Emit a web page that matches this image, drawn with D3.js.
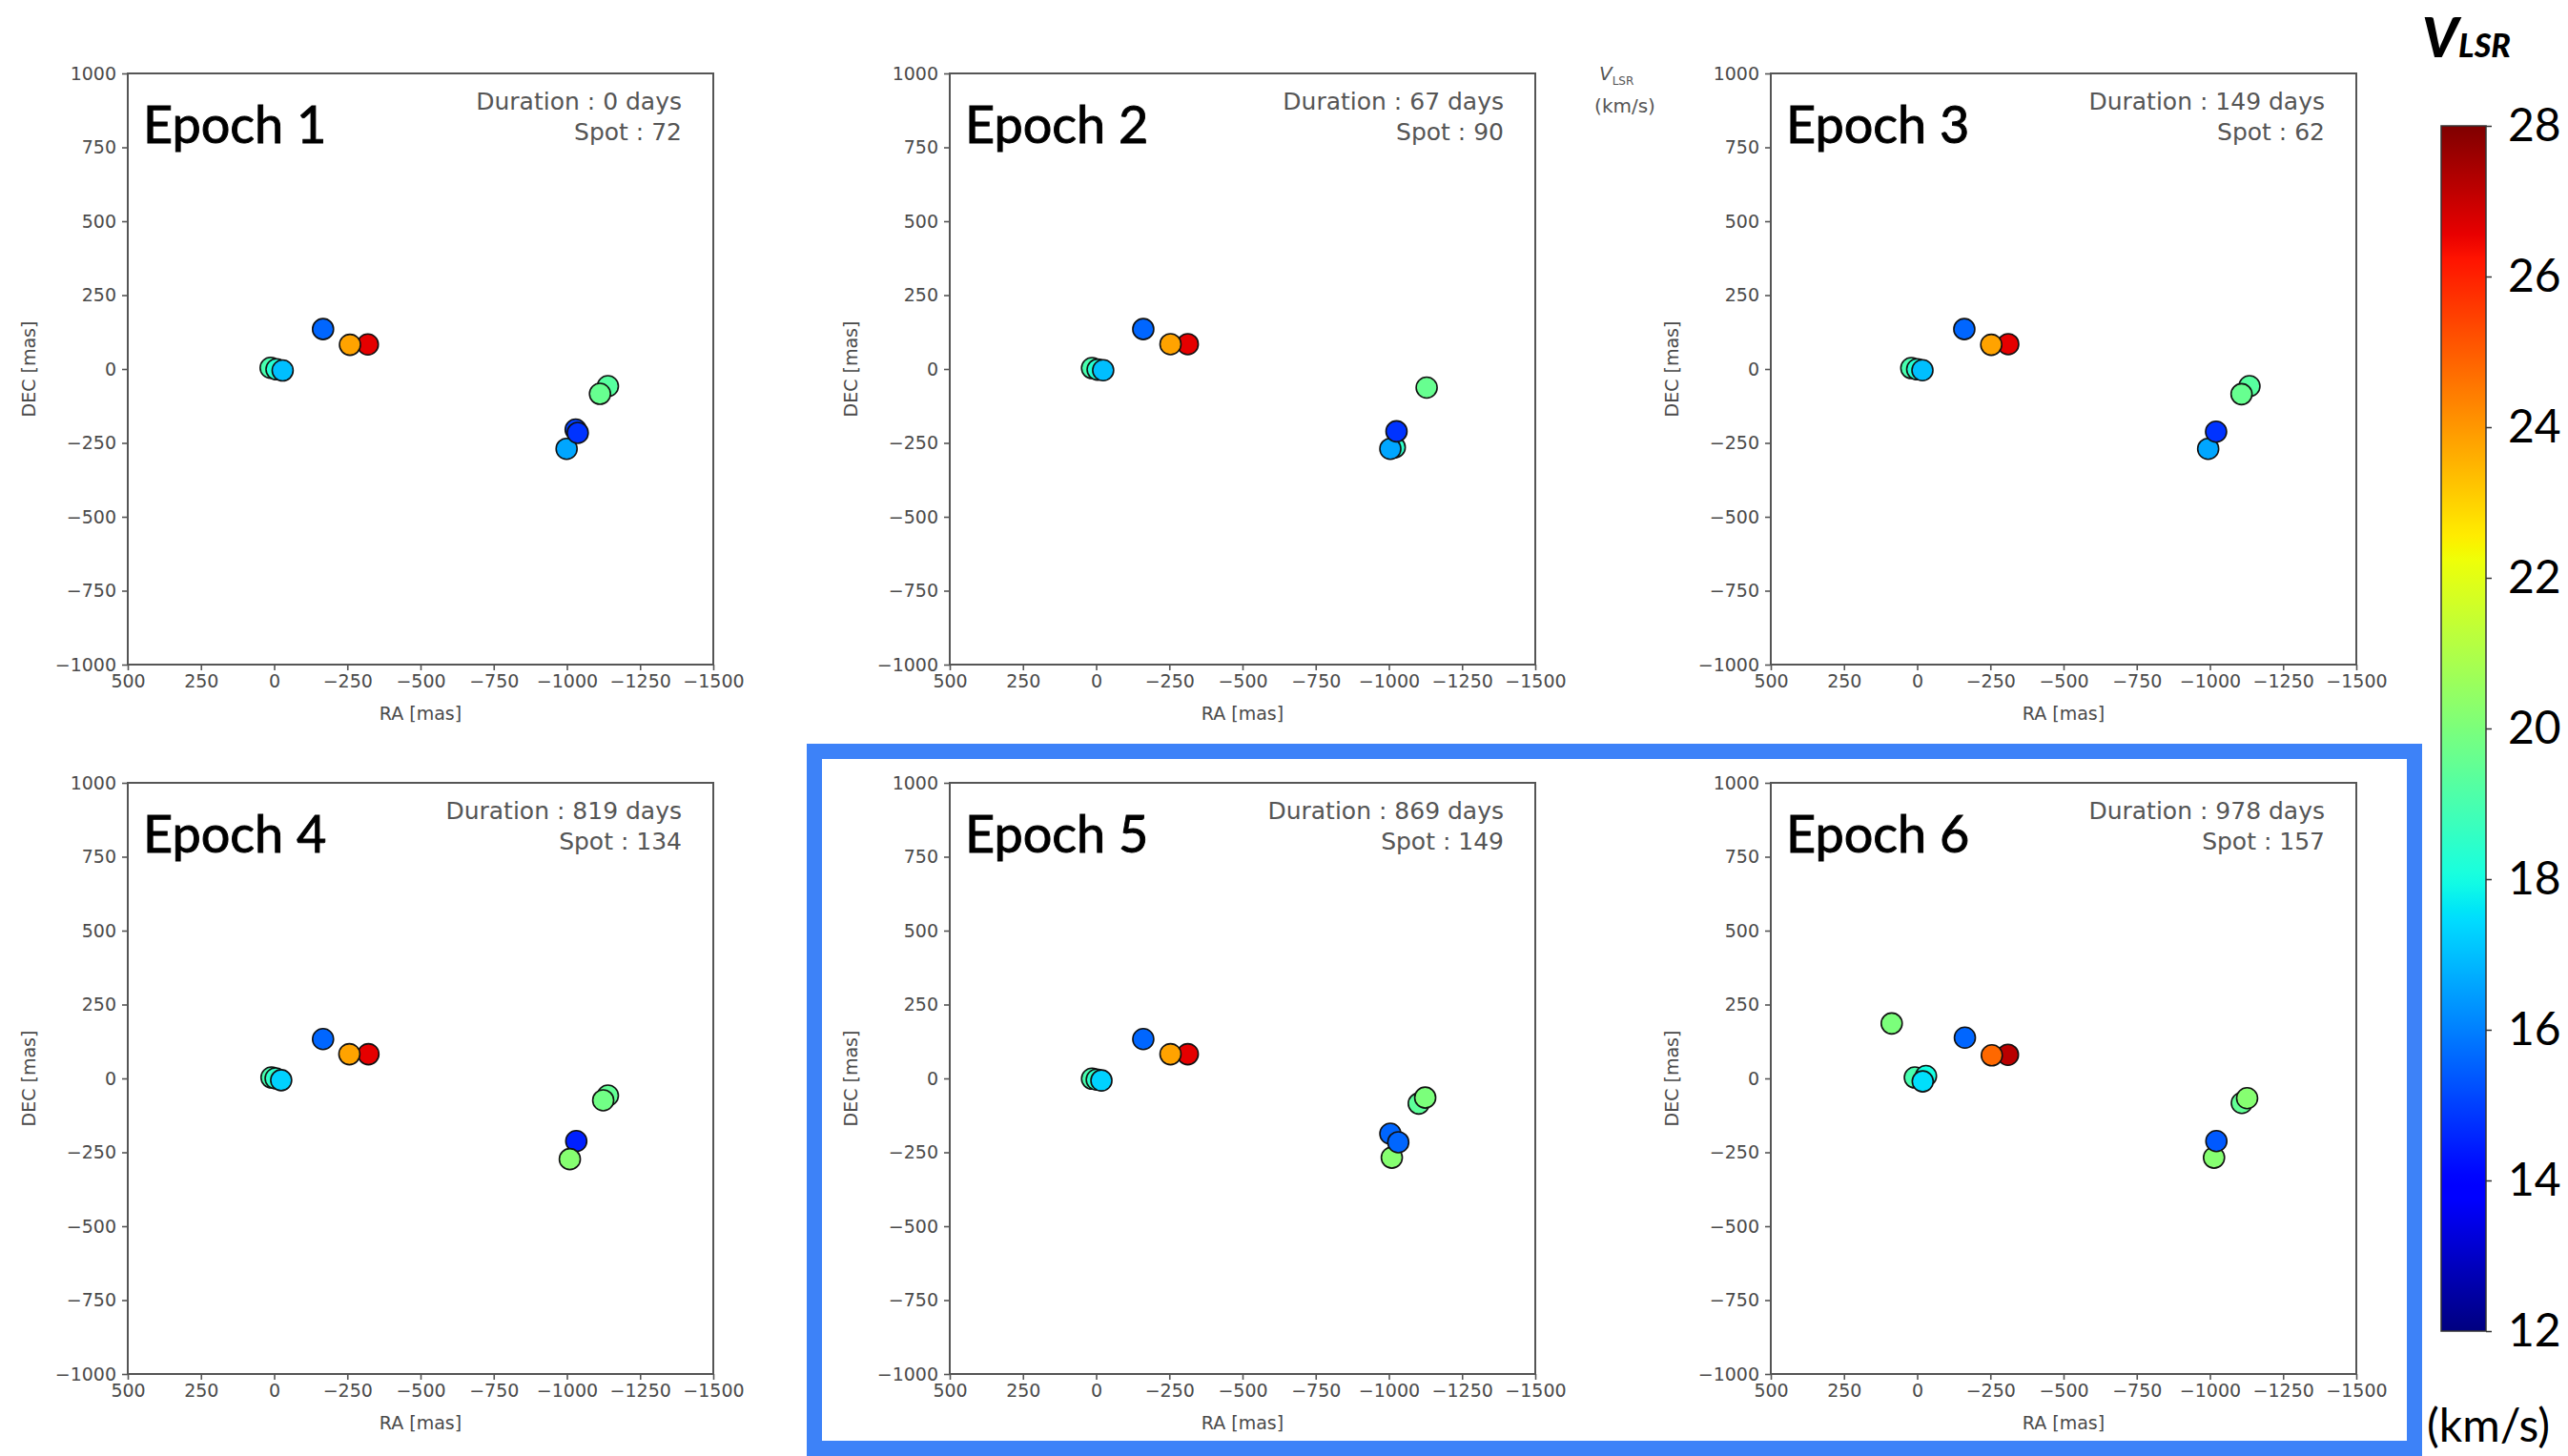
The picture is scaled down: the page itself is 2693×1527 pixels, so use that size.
<!DOCTYPE html>
<html>
<head>
<meta charset="utf-8">
<script src="https://cdnjs.cloudflare.com/ajax/libs/d3/7.8.5/d3.min.js"></script>
<style>
    body { margin: 0; background: #fff; }
    svg { display: block; }
</style>
</head>
<body>
<div id="chart"></div>
<script>
    /*
    DATA
    */
    const epochNames = ["Epoch 1", "Epoch 2", "Epoch 3", "Epoch 4", "Epoch 5", "Epoch 6"];
    const durations = [0, 67, 149, 819, 869, 978];
    const spotCounts = [72, 90, 62, 134, 149, 157];

    const xTicks = [500, 250, 0, -250, -500, -750, -1000, -1250, -1500];
    const yTicks = [1000, 750, 500, 250, 0, -250, -500, -750, -1000];
    const cbarTicks = [12, 14, 16, 18, 20, 22, 24, 26, 28];

    // each spot: [RA (mas), DEC (mas), V_LSR (km/s)]
    const spotsEpoch1 = [
        [12, 4, 19.0], [-8, -1, 18.3], [-29, -5, 17.0],
        [-167, 135, 15.6], [-320, 83, 26.6], [-259, 82, 23.8],
        [-1140, -58, 19.3], [-1113, -84, 19.6],
        [-1030, -205, 15.0], [-999, -270, 16.6], [-1037, -216, 14.8]
    ];
    const spotsEpoch2 = [
        [14, 3, 19.0], [-5, -2, 18.3], [-24, -4, 17.0],
        [-161, 135, 15.6], [-313, 84, 26.6], [-254, 84, 23.8],
        [-1129, -63, 19.6],
        [-1020, -265, 18.5], [-1005, -270, 16.6], [-1026, -211, 14.8]
    ];
    const spotsEpoch3 = [
        [20, 3, 19.0], [0, -1, 18.3], [-18, -4, 17.0],
        [-161, 135, 15.6], [-311, 84, 26.6], [-253, 82, 23.8],
        [-1135, -58, 19.3], [-1108, -85, 19.6],
        [-994, -270, 16.6], [-1021, -212, 14.8]
    ];
    const spotsEpoch4 = [
        [9, 3, 19.0], [-5, 0, 18.5], [-24, -6, 17.3],
        [-167, 133, 15.6], [-322, 82, 26.6], [-257, 82, 23.8],
        [-1140, -58, 19.5], [-1124, -74, 19.8],
        [-1032, -212, 14.5], [-1010, -273, 20.2]
    ];
    const spotsEpoch5 = [
        [14, -1, 19.0], [-2, -4, 18.5], [-18, -7, 17.3],
        [-161, 133, 15.6], [-313, 82, 26.6], [-254, 82, 23.8],
        [-1102, -85, 19.4], [-1124, -65, 20.0],
        [-1010, -268, 20.2], [-1005, -187, 15.6], [-1032, -216, 15.6]
    ];
    const spotsEpoch6 = [
        [87, 186, 20.0],
        [8, 3, 19.0], [-30, 8, 18.0], [-19, -10, 17.5],
        [-163, 138, 15.6], [-310, 80, 27.2], [-255, 78, 24.8],
        [-1109, -83, 19.5], [-1127, -67, 20.2],
        [-1014, -268, 20.2], [-1022, -212, 15.4]
    ];
    const allSpots = [spotsEpoch1, spotsEpoch2, spotsEpoch3, spotsEpoch4, spotsEpoch5, spotsEpoch6];

    /*
    CANVAS
    */
    const width = 2693;
    const height = 1527;

    const svg = d3.select("#chart")
        .append("svg")
        .attr("width", width)
        .attr("height", height);

    svg.append("rect")
        .attr("width", width)
        .attr("height", height)
        .attr("fill", "#fff");

    // panel layout
    const colLeft = [134, 996, 1857];
    const rowTop = [77, 821];
    const panelW = 614;
    const panelH = 620;

    /*
    JET COLORMAP (matplotlib segment data)
    */
    const jetR = d3.scaleLinear().domain([0, 0.35, 0.66, 0.89, 1]).range([0, 0, 1, 1, 0.5]).clamp(true);
    const jetG = d3.scaleLinear().domain([0, 0.125, 0.375, 0.64, 0.91, 1]).range([0, 0, 1, 1, 0, 0]).clamp(true);
    const jetB = d3.scaleLinear().domain([0, 0.11, 0.34, 0.65, 1]).range([0.5, 1, 1, 0, 0]).clamp(true);
    function jet(t) {
        return d3.rgb(jetR(t) * 255, jetG(t) * 255, jetB(t) * 255).toString();
    }
    const vNorm = d3.scaleLinear().domain([12, 28]).range([0, 1]).clamp(true);
    const colorOf = v => jet(vNorm(v));

    /*
    PANELS
    */
    const tickFont = "'DejaVu Sans', sans-serif";
    const noComma = d3.format("d");

    allSpots.forEach(function (spots, i) {
        const left = colLeft[i % 3];
        const top = rowTop[Math.floor(i / 3)];

        const xScale = d3.scaleLinear().domain([500, -1500]).range([0, panelW]);
        const yScale = d3.scaleLinear().domain([-1000, 1000]).range([panelH, 0]);

        const g = svg.append("g").attr("transform", `translate(${left},${top})`);

        const xAxis = g.append("g")
            .attr("transform", `translate(0,${panelH})`)
            .call(d3.axisBottom(xScale).tickValues(xTicks).tickFormat(noComma).tickSize(6).tickPadding(5));
        const yAxis = g.append("g")
            .call(d3.axisLeft(yScale).tickValues(yTicks).tickFormat(noComma).tickSize(6).tickPadding(6));

        [xAxis, yAxis].forEach(function (ax) {
            ax.select(".domain").remove();
            ax.selectAll("line").attr("stroke", "#555").attr("stroke-width", 1.6);
            ax.selectAll("text")
                .attr("fill", "#4a4a4a")
                .style("font-family", tickFont)
                .style("font-size", "19px");
        });

        // frame
        g.append("rect")
            .attr("width", panelW)
            .attr("height", panelH)
            .attr("fill", "none")
            .attr("stroke", "#555")
            .attr("stroke-width", 2);

        // axis labels
        g.append("text")
            .attr("x", panelW / 2)
            .attr("y", panelH + 58)
            .attr("text-anchor", "middle")
            .attr("fill", "#4a4a4a")
            .style("font-family", tickFont)
            .style("font-size", "19px")
            .text("RA [mas]");

        g.append("text")
            .attr("transform", `translate(-97,${panelH / 2}) rotate(-90)`)
            .attr("text-anchor", "middle")
            .attr("fill", "#4a4a4a")
            .style("font-family", tickFont)
            .style("font-size", "19px")
            .text("DEC [mas]");

        // spots
        g.selectAll("circle")
            .data(spots)
            .enter()
            .append("circle")
            .attr("cx", d => xScale(d[0]))
            .attr("cy", d => yScale(d[1]))
            .attr("r", 11)
            .attr("fill", d => colorOf(d[2]))
            .attr("stroke", "#111")
            .attr("stroke-width", 1.6);

        // annotations
        g.append("text")
            .attr("x", 16)
            .attr("y", 73)
            .attr("fill", "#000")
            .attr("stroke", "#000")
            .attr("stroke-width", 0.9)
            .style("font-family", "Lato, sans-serif")
            .style("font-weight", 400)
            .style("font-size", "54px")
            .text(epochNames[i]);

        g.append("text")
            .attr("x", panelW - 33)
            .attr("y", 38)
            .attr("text-anchor", "end")
            .attr("fill", "#555")
            .style("font-family", tickFont)
            .style("font-size", "25px")
            .text(`Duration : ${durations[i]} days`);

        g.append("text")
            .attr("x", panelW - 33)
            .attr("y", 70)
            .attr("text-anchor", "end")
            .attr("fill", "#555")
            .style("font-family", tickFont)
            .style("font-size", "25px")
            .text(`Spot : ${spotCounts[i]}`);
    });

    // small leftover colorbar caption between panel 2 and 3
    const smallCap = svg.append("text")
        .attr("x", 1677)
        .attr("y", 84)
        .attr("fill", "#555")
        .style("font-family", tickFont)
        .style("font-size", "20px");
    smallCap.append("tspan").style("font-style", "italic").text("V");
    smallCap.append("tspan").attr("dy", 5).style("font-size", "12px").text("LSR");
    svg.append("text")
        .attr("x", 1704)
        .attr("y", 118)
        .attr("text-anchor", "middle")
        .attr("fill", "#555")
        .style("font-family", tickFont)
        .style("font-size", "20px")
        .text("(km/s)");

    /*
    HIGHLIGHT BOX
    */
    svg.append("rect")
        .attr("x", 854)
        .attr("y", 788)
        .attr("width", 1678)
        .attr("height", 731)
        .attr("fill", "none")
        .attr("stroke", "#3d82f8")
        .attr("stroke-width", 16);

    /*
    COLORBAR
    */
    const cbar = { x: 2560, y: 132, w: 47, h: 1264 };

    const defs = svg.append("defs");
    const grad = defs.append("linearGradient")
        .attr("id", "jetgrad")
        .attr("x1", 0).attr("y1", 1)
        .attr("x2", 0).attr("y2", 0);
    d3.range(0, 1.0001, 0.01).forEach(function (t) {
        grad.append("stop")
            .attr("offset", t)
            .attr("stop-color", jet(t));
    });

    svg.append("rect")
        .attr("x", cbar.x)
        .attr("y", cbar.y)
        .attr("width", cbar.w)
        .attr("height", cbar.h)
        .attr("fill", "url(#jetgrad)")
        .attr("stroke", "#333")
        .attr("stroke-width", 1.5);

    const cScale = d3.scaleLinear().domain([12, 28]).range([cbar.y + cbar.h, cbar.y]);

    const cAxis = svg.append("g")
        .attr("transform", `translate(${cbar.x + cbar.w},0)`)
        .call(d3.axisRight(cScale).tickValues(cbarTicks).tickSize(6).tickPadding(17).tickFormat(d3.format("d")));
    cAxis.select(".domain").remove();
    cAxis.selectAll("line").attr("stroke", "#333").attr("stroke-width", 1.5);
    cAxis.selectAll("text")
        .attr("fill", "#000")
        .style("font-family", "Lato, sans-serif")
        .style("font-size", "48px");

    const vTitle = svg.append("text")
        .attr("x", 2540)
        .attr("y", 60)
        .attr("fill", "#000")
        .style("font-family", "Lato, sans-serif")
        .style("font-weight", 900)
        .style("font-style", "italic");
    vTitle.append("tspan").style("font-size", "58px").text("V");
    vTitle.append("tspan").style("font-size", "34px").text("LSR");

    svg.append("text")
        .attr("x", 2545)
        .attr("y", 1512)
        .attr("fill", "#000")
        .style("font-family", "Lato, sans-serif")
        .style("font-size", "48px")
        .text("(km/s)");
</script>
</body>
</html>
